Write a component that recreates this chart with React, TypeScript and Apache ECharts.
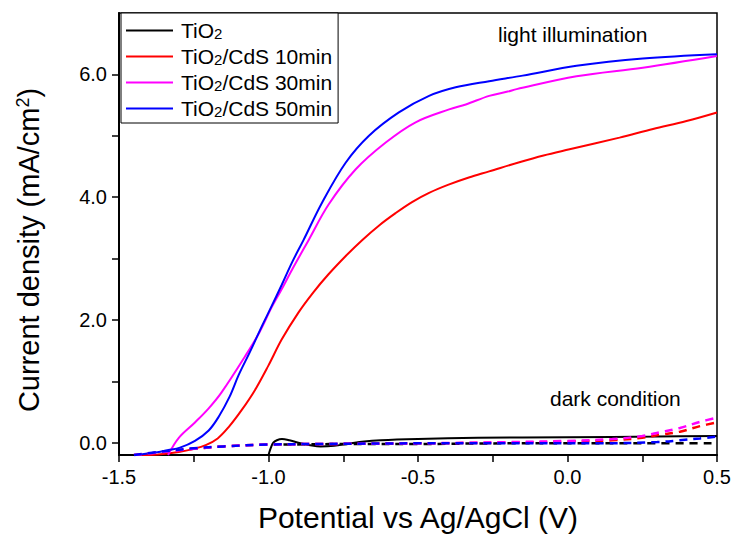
import React, { useEffect, useRef } from "react";
import * as echarts from "echarts";

// Linear sweep voltammetry: potential (V vs Ag/AgCl) and current density (mA/cm²)
const FONT = "'Liberation Sans', Arial, sans-serif";

// --- light illumination (solid) ---
const potTiO2Light = [-1.0, -0.992, -0.984, -0.972, -0.955, -0.93, -0.9, -0.86, -0.826, -0.78, -0.737, -0.68, -0.625, -0.5, -0.3, 0.0, 0.3, 0.5];
const jTiO2Light = [-0.2, -0.08, 0.0, 0.04, 0.06, 0.04, 0.0, -0.04, -0.06, -0.05, -0.02, 0.02, 0.04, 0.06, 0.08, 0.09, 0.1, 0.11];

const pot10Light = [-1.44, -1.37, -1.3, -1.25, -1.21, -1.17, -1.134, -1.09, -1.045, -1.0, -0.956, -0.9, -0.85, -0.8, -0.74, -0.687, -0.63, -0.575, -0.52, -0.463, -0.4, -0.33, -0.262, -0.161, -0.08, 0.007, 0.174, 0.286, 0.398, 0.5];
const j10Light = [-0.2, -0.19, -0.15, -0.1, -0.04, 0.07, 0.25, 0.53, 0.86, 1.26, 1.68, 2.12, 2.45, 2.74, 3.05, 3.3, 3.54, 3.74, 3.92, 4.07, 4.2, 4.32, 4.42, 4.57, 4.68, 4.78, 4.97, 5.11, 5.24, 5.38];

const pot30Light = [-1.336, -1.3, -1.246, -1.2, -1.157, -1.078, -1.03, -0.99, -0.956, -0.92, -0.866, -0.799, -0.709, -0.608, -0.508, -0.396, -0.34, -0.262, -0.2, -0.17, 0.03, 0.252, 0.5];
const j30Light = [-0.2, 0.08, 0.33, 0.56, 0.82, 1.41, 1.8, 2.2, 2.5, 2.83, 3.3, 3.88, 4.45, 4.89, 5.22, 5.43, 5.51, 5.65, 5.72, 5.76, 5.97, 6.11, 6.3];

const pot50Light = [-1.44, -1.38, -1.335, -1.296, -1.246, -1.2, -1.167, -1.13, -1.1, -1.06, -1.024, -0.99, -0.956, -0.92, -0.883, -0.821, -0.742, -0.664, -0.564, -0.463, -0.374, -0.262, -0.15, 0.03, 0.252, 0.5];
const j50Light = [-0.2, -0.16, -0.12, -0.08, 0.03, 0.2, 0.42, 0.75, 1.1, 1.5, 1.88, 2.22, 2.57, 2.95, 3.3, 3.91, 4.56, 5.0, 5.38, 5.65, 5.79, 5.89, 5.98, 6.14, 6.26, 6.33];

// --- dark condition (dashed) ---
const potTiO2Dark = [-0.95, -0.7, -0.5, -0.2, 0.0, 0.25, 0.5];
const jTiO2Dark = [-0.03, -0.02, -0.02, -0.01, -0.01, -0.01, -0.01];

const pot10Dark = [-1.45, -1.35, -1.25, -1.15, -1.0, -0.8, -0.5, -0.2, 0.0, 0.15, 0.25, 0.309, 0.376, 0.443, 0.5];
const j10Dark = [-0.2, -0.15, -0.1, -0.06, -0.03, -0.02, -0.01, 0.0, 0.02, 0.04, 0.08, 0.13, 0.18, 0.27, 0.33];

const pot30Dark = [-1.45, -1.35, -1.25, -1.15, -1.0, -0.8, -0.5, -0.2, 0.0, 0.15, 0.25, 0.309, 0.376, 0.443, 0.5];
const j30Dark = [-0.2, -0.15, -0.1, -0.06, -0.03, -0.02, -0.01, 0.01, 0.03, 0.06, 0.11, 0.17, 0.24, 0.34, 0.41];

const pot50Dark = [-1.45, -1.35, -1.25, -1.15, -1.0, -0.8, -0.5, -0.2, 0.1, 0.3, 0.376, 0.443, 0.5];
const j50Dark = [-0.2, -0.14, -0.09, -0.06, -0.03, -0.02, -0.01, -0.01, -0.01, 0.01, 0.04, 0.07, 0.1];

const legendNames = ["TiO2", "TiO2/CdS 10min", "TiO2/CdS 30min", "TiO2/CdS 50min"];
const colors = ["#000000", "#ff0000", "#ff00ff", "#0000ff"];

const xTicks = [-1.5, -1.0, -0.5, 0.0, 0.5];
const yTickValues = [0, 1, 2, 3, 4, 5, 6];
const yLabelValues = [0, 2, 4, 6];

const zip = (xs: number[], ys: number[]) => xs.map((x, i) => [x, ys[i]]);

const lightData = [
  zip(potTiO2Light, jTiO2Light),
  zip(pot10Light, j10Light),
  zip(pot30Light, j30Light),
  zip(pot50Light, j50Light),
];
const darkData = [
  zip(potTiO2Dark, jTiO2Dark),
  zip(pot10Dark, j10Dark),
  zip(pot30Dark, j30Dark),
  zip(pot50Dark, j50Dark),
];

// "TiO2..." -> rich text with subscript 2
const richName = (name: string) => {
  const rest = name.slice(4);
  return "{n|TiO}{s|2}" + (rest ? "{n|" + rest + "}" : "");
};

export default function App() {
  const ref = useRef<HTMLDivElement>(null);

  useEffect(() => {
    document.body.style.margin = "0";
    if (!ref.current) return;
    const chart = echarts.init(ref.current, null, { renderer: "svg" });

    const series: any[] = [];
    legendNames.forEach((name, i) => {
      series.push({
        name,
        type: "line",
        data: lightData[i],
        showSymbol: false,
        smooth: 0.35,
        lineStyle: { color: colors[i], width: 2 },
        itemStyle: { color: colors[i] },
        z: 2,
      });
    });
    legendNames.forEach((name, i) => {
      series.push({
        name: name + " (dark)",
        type: "line",
        data: darkData[i],
        showSymbol: false,
        smooth: 0.35,
        lineStyle: { color: colors[i], width: 2.5, type: [8, 6] },
        itemStyle: { color: colors[i] },
        z: 3,
      });
    });

    chart.setOption({
      animation: false,
      backgroundColor: "#ffffff",
      textStyle: { fontFamily: FONT },
      grid: {
        left: 119,
        right: 16,
        top: 13,
        bottom: 82,
        show: true,
        borderColor: "#000",
        borderWidth: 1.5,
        outerBoundsMode: "none",
      },
      legend: {
        data: legendNames.map((n) => ({ name: n, icon: "rect" })),
        orient: "vertical",
        left: 121,
        top: 13,
        itemWidth: 47,
        itemHeight: 2,
        itemGap: 5,
        padding: [7, 6, 4, 5],
        borderColor: "#000",
        borderWidth: 1,
        backgroundColor: "#fff",
        selectedMode: false,
        formatter: (name: string) => richName(name),
        textStyle: {
          color: "#000",
          fontSize: 21,
          fontFamily: FONT,
          padding: [0, 0, 0, 3],
          rich: {
            n: { fontSize: 21, color: "#000", fontFamily: FONT, verticalAlign: "bottom" },
            s: { fontSize: 15, color: "#000", fontFamily: FONT, verticalAlign: "bottom" },
          },
        },
      },
      xAxis: {
        type: "value",
        min: -1.5,
        max: 0.5,
        interval: 0.25,
        name: "Potential vs Ag/AgCl (V)",
        nameLocation: "middle",
        nameGap: 47,
        nameTextStyle: { fontSize: 30, color: "#000", fontFamily: FONT },
        axisLine: { show: true, onZero: false, lineStyle: { color: "#000", width: 2 } },
        axisTick: { show: true, inside: false, length: 7, lineStyle: { color: "#000", width: 1.5 } },
        axisLabel: {
          color: "#000",
          fontSize: 20,
          margin: 12,
          fontFamily: FONT,
          formatter: (v: number) =>
            xTicks.some((t) => Math.abs(t - v) < 1e-6) ? v.toFixed(1) : "",
        },
        splitLine: { show: false },
      },
      yAxis: {
        type: "value",
        min: -0.2,
        max: 7,
        name: "{n|Current density (mA/cm}{sup|2}{n|)}",
        nameLocation: "middle",
        nameGap: 76,
        nameRotate: 90,
        nameTextStyle: {
          color: "#000",
          fontFamily: FONT,
          fontSize: 29,
          padding: [0, 32, 0, 0],
          rich: {
            n: { fontSize: 29, color: "#000", fontFamily: FONT },
            sup: { fontSize: 18, color: "#000", fontFamily: FONT, verticalAlign: "top", padding: [0, 0, 10, 0] },
          },
        },
        axisLine: { show: true, onZero: false, lineStyle: { color: "#000", width: 2 } },
        axisTick: {
          show: true,
          inside: false,
          length: 7,
          customValues: yTickValues,
          lineStyle: { color: "#000", width: 1.5 },
        },
        axisLabel: {
          color: "#000",
          fontSize: 20,
          margin: 12,
          fontFamily: FONT,
          customValues: yLabelValues,
          formatter: (v: number) => v.toFixed(1),
        },
        splitLine: { show: false },
      },
      graphic: [
        {
          type: "text",
          left: 498,
          top: 24,
          style: { text: "light illumination", fontSize: 21, fill: "#000", fontFamily: FONT },
        },
        {
          type: "text",
          left: 550,
          top: 388,
          style: { text: "dark condition", fontSize: 21, fill: "#000", fontFamily: FONT },
        },
      ],
      series,
    });

    return () => chart.dispose();
  }, []);

  return <div ref={ref} style={{ width: 733, height: 537 }} />;
}
